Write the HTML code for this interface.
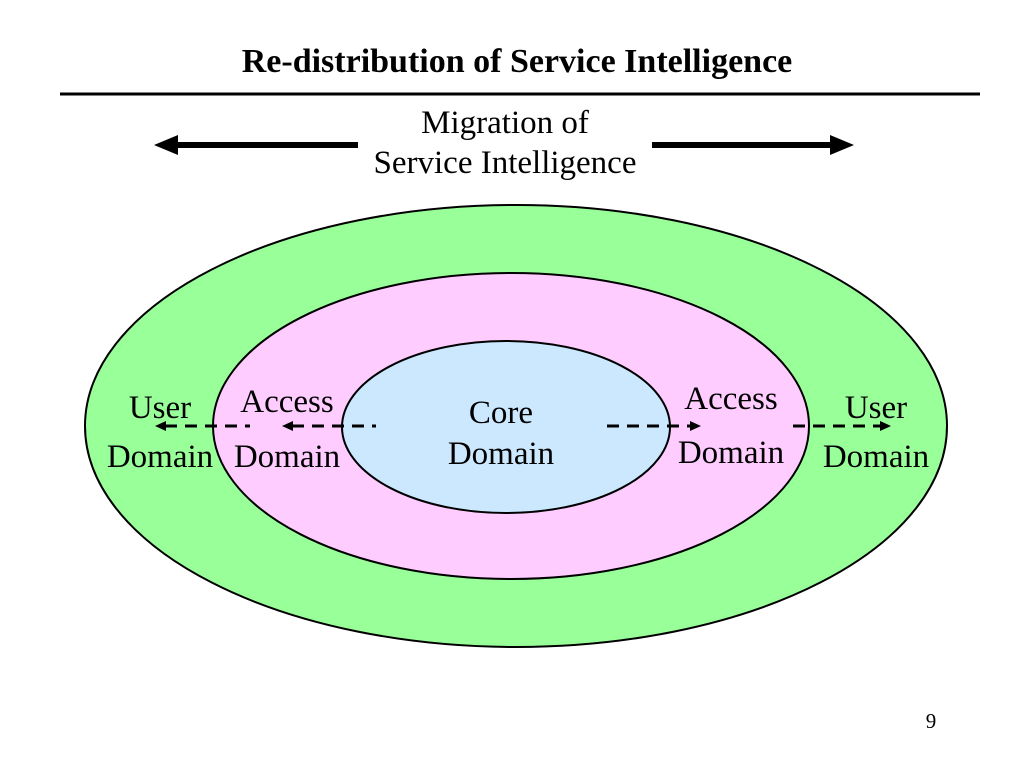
<!DOCTYPE html>
<html><head><style>body{margin:0;background:#fff}</style></head><body>
<svg width="1024" height="768" xmlns="http://www.w3.org/2000/svg" font-family="Liberation Serif, serif">
<rect width="1024" height="768" fill="#fff"/>
<text x="517" y="72" text-anchor="middle" font-size="34" font-weight="bold">Re-distribution of Service Intelligence</text>
<line x1="60" y1="94" x2="980" y2="94" stroke="#000" stroke-width="3"/>
<text x="505" y="133" text-anchor="middle" font-size="33">Migration of</text>
<text x="505" y="173" text-anchor="middle" font-size="33">Service Intelligence</text>
<line x1="175" y1="145" x2="358" y2="145" stroke="#000" stroke-width="6"/>
<polygon points="154,145 178,135 178,155" fill="#000"/>
<line x1="652" y1="145" x2="833" y2="145" stroke="#000" stroke-width="6"/>
<polygon points="854,145 830,135 830,155" fill="#000"/>
<ellipse cx="516" cy="426" rx="431" ry="221" fill="#99ff99" stroke="#000" stroke-width="2"/>
<ellipse cx="511" cy="426" rx="298" ry="153" fill="#ffccff" stroke="#000" stroke-width="2"/>
<ellipse cx="506" cy="427" rx="164" ry="86" fill="#cce8ff" stroke="#000" stroke-width="2"/>
<g stroke="#000" stroke-width="3" stroke-dasharray="12,8">
<line x1="165" y1="426" x2="250" y2="426"/>
<line x1="292" y1="426" x2="376" y2="426"/>
<line x1="607" y1="426" x2="690" y2="426"/>
<line x1="793" y1="426" x2="880" y2="426"/>
</g>
<g fill="#000">
<polygon points="155,426 166,421 166,431"/>
<polygon points="282,426 293,421 293,431"/>
<polygon points="701,426 690,421 690,431"/>
<polygon points="891,426 880,421 880,431"/>
</g>
<g font-size="33" text-anchor="middle">
<text x="160" y="418">User</text>
<text x="160" y="467">Domain</text>
<text x="287" y="412">Access</text>
<text x="287" y="467">Domain</text>
<text x="501" y="423">Core</text>
<text x="501" y="464">Domain</text>
<text x="731" y="409">Access</text>
<text x="731" y="463">Domain</text>
<text x="876" y="418">User</text>
<text x="876" y="467">Domain</text>
</g>
<text x="931" y="728" text-anchor="middle" font-size="21">9</text>
</svg>
</body></html>
